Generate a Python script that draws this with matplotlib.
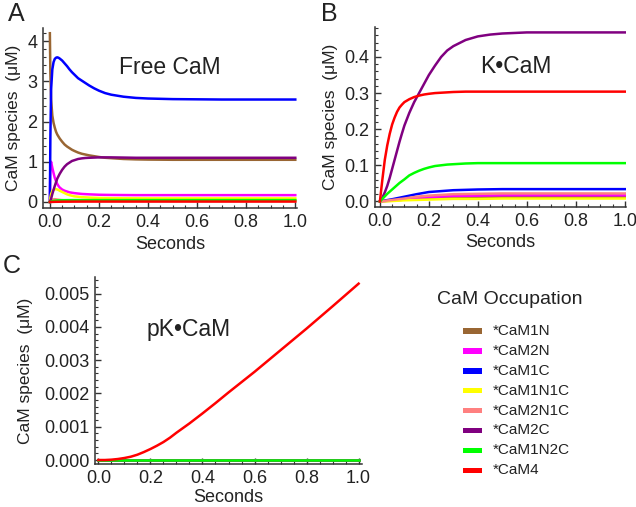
import matplotlib
matplotlib.use("Agg")
import matplotlib.pyplot as plt
from matplotlib.ticker import MultipleLocator, FormatStrFormatter
from matplotlib.patches import Rectangle

plt.rcParams['font.family'] = ['Liberation Sans', 'DejaVu Sans']

species = ["*CaM1N", "*CaM2N", "*CaM1C", "*CaM1N1C", "*CaM2N1C", "*CaM2C", "*CaM1N2C", "*CaM4"]
colors = ["#996633", "#ff00ff", "#0000ff", "#ffff00", "#ff8080", "#800080", "#00ff00", "#ff0000"]

# Free CaM (uM) -- large species on a fine time grid
t_free = [0, .002, .005, .01, .015, .02, .025, .03, .035, .04, .05, .06, .07, .08, .09, .1,
          .115, .13, .145, .16, .18, .2, .225, .25, .3, .35, .4, .5, .6, .7, 1.0]
free_cam1n = [4.2, 3.2, 2.55, 2.15, 1.97, 1.85, 1.75, 1.68, 1.63, 1.58, 1.5, 1.43, 1.38, 1.34, 1.3, 1.27,
              1.23, 1.2, 1.18, 1.16, 1.14, 1.12, 1.1, 1.09, 1.07, 1.06, 1.055, 1.05, 1.05, 1.05, 1.05]
free_cam2n = [0, .9, 1.0, .85, .72, .6, .52, .45, .4, .36, .31, .28, .26, .24, .23, .22,
              .21, .2, .195, .19, .185, .18, .177, .175, .172, .17, .17, .17, .17, .17, .17]
free_cam1c = [0, 1.6, 2.8, 3.3, 3.48, 3.56, 3.59, 3.6, 3.59, 3.57, 3.52, 3.45, 3.38, 3.3, 3.23, 3.17,
              3.08, 3.02, 2.96, 2.9, 2.83, 2.77, 2.71, 2.67, 2.62, 2.59, 2.575, 2.56, 2.555, 2.55, 2.55]
free_cam1n1c = [0, .1, .2, .27, .3, .32, .32, .31, .3, .28, .25, .22, .19, .17, .155, .14,
                .13, .12, .115, .11, .105, .1, .097, .095, .092, .091, .09, .09, .09, .09, .09]
free_cam2c = [0, .03, .08, .2, .3, .4, .49, .58, .64, .7, .8, .88, .94, .98, 1.02, 1.04,
              1.07, 1.085, 1.095, 1.1, 1.105, 1.11, 1.11, 1.11, 1.105, 1.1, 1.1, 1.1, 1.1, 1.1, 1.1]
# Free CaM -- small species on a coarse grid
t_free_low = [0, .005, .01, .02, .03, .05, .08, .1, .15, .2, .3, .5, 1.0]
free_cam2n1c = [0, .04, .06, .07, .06, .045, .037, .033, .03, .03, .03, .03, .03]
free_cam1n2c = [0, .01, .02, .03, .038, .044, .046, .047, .047, .047, .047, .047, .047]
free_cam4 = [0, .001, .002, .004, .005, .007, .008, .009, .01, .01, .01, .01, .01]

# K*CaM (uM)
t_k = [0, .01, .02, .03, .04, .05, .06, .07, .08, .09, .1, .12, .14, .16, .18, .2,
       .225, .25, .275, .3, .35, .4, .45, .5, .6, .7, .8, 1.0]
k_cam2c = [0, .01, .025, .043, .065, .09, .115, .14, .165, .188, .21, .245, .275, .3, .325, .35,
           .376, .4, .418, .43, .447, .457, .462, .465, .468, .468, .468, .468]
k_cam1n2c = [0, .007, .014, .021, .027, .033, .039, .045, .051, .056, .061, .072, .079, .085, .09, .094,
             .098, .1, .102, .103, .105, .106, .106, .106, .106, .106, .106, .106]
k_cam4 = [0, .06, .115, .155, .187, .213, .232, .248, .26, .268, .275, .283, .289, .293, .296, .298,
          .3, .301, .302, .303, .304, .304, .304, .304, .304, .304, .304, .304]
t_k_low = [0, .05, .1, .15, .2, .3, .4, .5, .7, 1.0]
k_cam1n = [0, .002, .005, .007, .009, .011, .012, .012, .012, .012]
k_cam2n = [0, .003, .006, .01, .012, .015, .016, .017, .017, .017]
k_cam1c = [0, .006, .013, .02, .026, .031, .033, .034, .034, .034]
k_cam1n1c = [0, .001, .003, .004, .005, .007, .007, .008, .008, .008]
k_cam2n1c = [0, .004, .008, .013, .016, .02, .021, .022, .022, .022]

# pK*CaM (uM)
t_pk = [0, .025, .05, .075, .1, .125, .15, .175, .2, .225, .25, .275, .3, .35, .4, .45,
        .5, .6, .7, .8, .9, 1.0]
pk_cam4 = [0, 0, .00001, .00003, .00006, .0001, .00016, .00024, .00033, .00043, .00054, .00067,
           .00082, .0011, .0014, .00171, .00203, .00265, .0033, .00395, .00462, .0053]
pk_zero = [0] * len(t_pk)

W, H = 636, 507
fig = plt.figure(figsize=(W / 100, H / 100), dpi=100)


def px_axes(left, top, right, bottom):
    return fig.add_axes([left / W, 1 - bottom / H, (right - left) / W, (bottom - top) / H])


def style(ax, xlim, ylim, ymajor, yminor, yfmt, ylab_x, xlab_y):
    ax.set_xlim(*xlim)
    ax.set_ylim(*ylim)
    for s in ["top", "right"]:
        ax.spines[s].set_visible(False)
    for s in ["left", "bottom"]:
        ax.spines[s].set_linewidth(1.1)
        ax.spines[s].set_color("#333333")
    ax.xaxis.set_major_locator(MultipleLocator(0.2))
    ax.xaxis.set_minor_locator(MultipleLocator(0.05))
    ax.xaxis.set_major_formatter(FormatStrFormatter("%.1f"))
    ax.yaxis.set_major_locator(MultipleLocator(ymajor))
    ax.yaxis.set_minor_locator(MultipleLocator(yminor))
    ax.yaxis.set_major_formatter(FormatStrFormatter(yfmt))
    ax.tick_params(which="major", direction="in", length=4, width=1, color="#333333",
                   labelsize=13, labelcolor="#222222", pad=4)
    ax.tick_params(which="minor", direction="in", length=2, width=0.8, color="#333333")
    ax.set_xlabel("Seconds", fontsize=13, color="#222222")
    ax.set_ylabel("CaM species  (\u03bcM)", fontsize=12.5, color="#222222")
    ax.yaxis.set_label_coords(ylab_x, 0.5)
    ax.xaxis.set_label_coords(0.5, xlab_y)


lw = 1.8

axA = px_axes(43, 28, 297, 208)
free_series = [(t_free, free_cam1n), (t_free, free_cam2n), (t_free, free_cam1c), (t_free, free_cam1n1c),
               (t_free_low, free_cam2n1c), (t_free, free_cam2c), (t_free_low, free_cam1n2c),
               (t_free_low, free_cam4)]
for (t, y), c in zip(free_series, colors):
    axA.plot(t, y, color=c, lw=lw, solid_joinstyle="round")
style(axA, (-0.028, 1.007), (-0.15, 4.33), 1, 0.2, "%d", -0.088, -0.155)
axA.text(0.5, 0.78, "Free CaM", transform=axA.transAxes, fontsize=16.5,
         ha="center", va="center", color="#222222")

axB = px_axes(375, 27, 626, 207)
k_series = [(t_k_low, k_cam1n), (t_k_low, k_cam2n), (t_k_low, k_cam1c), (t_k_low, k_cam1n1c),
            (t_k_low, k_cam2n1c), (t_k, k_cam2c), (t_k, k_cam1n2c), (t_k, k_cam4)]
for (t, y), c in zip(k_series, colors):
    axB.plot(t, y, color=c, lw=lw, solid_joinstyle="round")
style(axB, (-0.02, 1.005), (-0.0155, 0.483), 0.1, 0.02, "%.1f", -0.147, -0.15)
axB.text(0.56, 0.78, "K\u2022CaM", transform=axB.transAxes, fontsize=16.5,
         ha="center", va="center", color="#222222")

axC = px_axes(95, 277, 362, 464)
for c in colors[:-1]:
    axC.plot(t_pk, pk_zero, color=c, lw=lw)
axC.plot(t_pk, pk_cam4, color=colors[-1], lw=lw, solid_joinstyle="round")
style(axC, (-0.013, 1.013), (-0.00012, 0.0055), 0.001, 0.0002, "%.3f", -0.232, -0.135)
axC.text(0.35, 0.72, "pK\u2022CaM", transform=axC.transAxes, fontsize=16.5,
         ha="center", va="center", color="#222222")

# panel letters
for lab, x, y in [("A", 16, 14), ("B", 329, 14), ("C", 12, 266)]:
    fig.text(x / W, 1 - y / H, lab, fontsize=18, ha="center", va="center", color="#222222")

# legend
fig.text(510 / W, 1 - 300 / H, "CaM Occupation", fontsize=14, ha="center", va="center",
         color="#222222")
for i, (name, c) in enumerate(zip(species, colors)):
    yc = 331 + 19.9 * i
    fig.patches.append(Rectangle((463 / W, 1 - (yc + 2.7) / H), 19 / W, 5.4 / H,
                                 transform=fig.transFigure, facecolor=c, edgecolor="none"))
    fig.text(493 / W, 1 - yc / H, name, fontsize=11, ha="left", va="center", color="#222222")

fig.savefig("out.png", dpi=100)
